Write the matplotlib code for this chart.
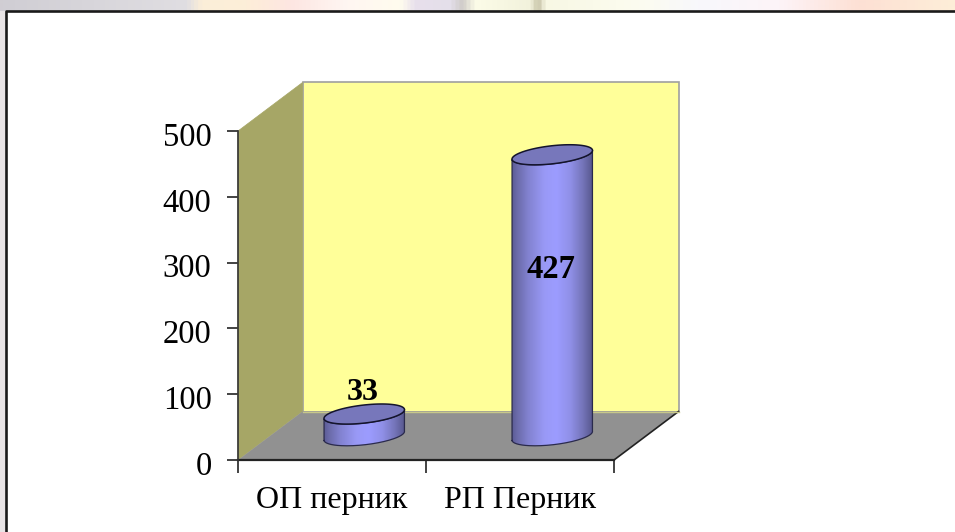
import numpy as np
import matplotlib
matplotlib.use('Agg')
import matplotlib.pyplot as plt
from matplotlib.colors import LinearSegmentedColormap
from matplotlib.patches import Polygon
from matplotlib.transforms import ScaledTranslation

categories = ['ОП перник', 'РП Перник']
values = [33, 427]
y_ticks = [0, 100, 200, 300, 400, 500]

plt.rcParams['font.family'] = ['Liberation Serif', 'DejaVu Serif']

W, H = 955, 532
fig = plt.figure(figsize=(W / 100, H / 100), dpi=100, facecolor='white')

# slide background showing around the white frame
bg = fig.add_axes([0, 0, 1, 1], zorder=0)
bg.axis('off')
strip_pos = [0, 185, 200, 245, 290, 345, 400, 415, 450, 462, 475, 530, 538, 545, 640, 700, 780, 860, 955]
strip_col = ['#d0ced4', '#e0dee2', '#fbeed8', '#fdeed8', '#fde6e2', '#fff6f2', '#fffcee', '#e8e0ec', '#e4dfea',
             '#cfcbc8', '#fcfce8', '#f2f2dc', '#c8c4a8', '#f8f8e4', '#fcfcf0', '#f8f8fc', '#fdf4f8', '#fde0d4',
             '#fdeed8']
strip_cmap = LinearSegmentedColormap.from_list('strip', [(p / W, c) for p, c in zip(strip_pos, strip_col)])
bg.imshow(np.linspace(0, 1, W)[None, :], cmap=strip_cmap, aspect='auto', extent=[0, W, H, 0])
bg.fill_between([0, 6], 11, H, color='#e8e4e6', lw=0)
bg.fill_between([6, W], 11, H, color='white', lw=0)
bg.plot([6, 6, W], [H, 10.5, 10.5], color='#1a1a1a', lw=1.9, solid_capstyle='butt')
bg.set_xlim(0, W)
bg.set_ylim(H, 0)

# front plane of the 3d box
ax = fig.add_axes([238 / W, (H - 460) / H, 376 / W, 329 / H], zorder=1)
n = len(categories)
top = y_ticks[-1]
ax.patch.set_visible(False)
for s in ax.spines.values():
    s.set_visible(False)

px_x = 376 / n
px_y = 329 / top
dep_x = 64.5 / px_x
dep_y = 48.5 / px_y

ax.add_patch(Polygon([(dep_x, dep_y), (n + dep_x, dep_y), (n + dep_x, top + dep_y), (dep_x, top + dep_y)],
                     fc='#ffff99', ec='#a0a0a0', lw=1.2, clip_on=False, zorder=1))
ax.add_patch(Polygon([(0, 0), (dep_x, dep_y), (dep_x, top + dep_y), (0, top)],
                     fc='#a6a666', ec='#a6a666', lw=0.5, clip_on=False, zorder=2))
ax.add_patch(Polygon([(0, 0), (n, 0), (n + dep_x, dep_y), (dep_x, dep_y)],
                     fc='#919191', ec='none', clip_on=False, zorder=2))
ax.plot([n, n + dep_x], [0, dep_y], color='#222222', lw=1.2, clip_on=False, zorder=3)
ax.plot([dep_x, n + dep_x], [dep_y, dep_y], color='#c8c88a', lw=1, clip_on=False, zorder=3)
ax.plot([0, n], [0, 0], color='#222222', lw=1.6, clip_on=False, zorder=4)
ax.plot([0, 0], [0, top], color='#333333', lw=1.2, clip_on=False, zorder=4)

cyl_cmap = LinearSegmentedColormap.from_list(
    'cyl', [(0, '#5c5c96'), (0.06, '#6a6aa8'), (0.2, '#8282d0'), (0.4, '#9999f6'), (0.55, '#9c9cff'),
            (0.72, '#9090e8'), (0.88, '#7474b8'), (1, '#56568c')])

ell_a, ell_b, ell_tilt = 40.5, 9.0, np.radians(6.5)


def ellipse_pts(cx, cy, t):
    # tilted ellipse, sizes in pixels, returned in data units
    ex = ell_a * np.cos(t) * np.cos(ell_tilt) - ell_b * np.sin(t) * np.sin(ell_tilt)
    ey = ell_a * np.cos(t) * np.sin(ell_tilt) + ell_b * np.sin(t) * np.cos(ell_tilt)
    return np.column_stack([cx + ex / px_x, cy + ey / px_y])


# t where the ellipse reaches its leftmost point, sides of the cylinder start there
t_left = np.pi + np.arctan2(ell_b * np.sin(ell_tilt), ell_a * np.cos(ell_tilt))

for i, v in enumerate(values):
    cx = i + 0.5 + dep_x / 2
    cy = dep_y / 2
    t_low = np.linspace(t_left, t_left + np.pi, 80)
    lower = ellipse_pts(cx, cy, t_low)
    upper = ellipse_pts(cx, cy + v, t_low)
    body = np.vstack([lower, upper[::-1]])
    patch = Polygon(body, fc='none', ec='none', clip_on=False, zorder=5)
    ax.add_patch(patch)
    im = ax.imshow(np.linspace(0, 1, 256)[None, :], cmap=cyl_cmap, aspect='auto', zorder=5,
                   extent=[body[:, 0].min(), body[:, 0].max(), body[:, 1].min(), body[:, 1].max()])
    im.set_clip_path(patch)
    ax.plot(np.r_[body[:, 0], body[0, 0]], np.r_[body[:, 1], body[0, 1]],
            color='#2a2a4c', lw=0.9, clip_on=False, zorder=6)
    lid = ellipse_pts(cx, cy + v, np.linspace(0, 2 * np.pi, 120))
    ax.add_patch(Polygon(lid, fc='#7777bb', ec='#14142c', lw=1.1, clip_on=False, zorder=7))

ax.set_xlim(0, n)
ax.set_ylim(0, top)

# value labels
ax.text(0.5 + dep_x / 2 - 0.007, dep_y / 2 + values[0] + 11, str(values[0]), ha='center', va='bottom',
        fontsize=23, fontweight='bold', color='black', zorder=8)
ax.text(1.5 + dep_x / 2 - 0.005, 290, str(values[1]), ha='center', va='center',
        fontsize=23.5, fontweight='bold', color='black', zorder=8)

ax.set_yticks(y_ticks)
ax.set_xticks(range(n + 1))
ax.set_xticklabels([])
ax.tick_params(axis='y', length=8, width=1.2, color='#222222', labelsize=23.5, pad=11)
ax.tick_params(axis='x', length=9, width=1.2, color='#222222')
shift = ScaledTranslation(0, -3 / 100, fig.dpi_scale_trans)
for label in ax.get_yticklabels():
    label.set_transform(label.get_transform() + shift)
for i, c in enumerate(categories):
    ax.text(i + 0.5, -62, c, ha='center', va='center', fontsize=23, color='black')

fig.savefig('out.png', dpi=100)
